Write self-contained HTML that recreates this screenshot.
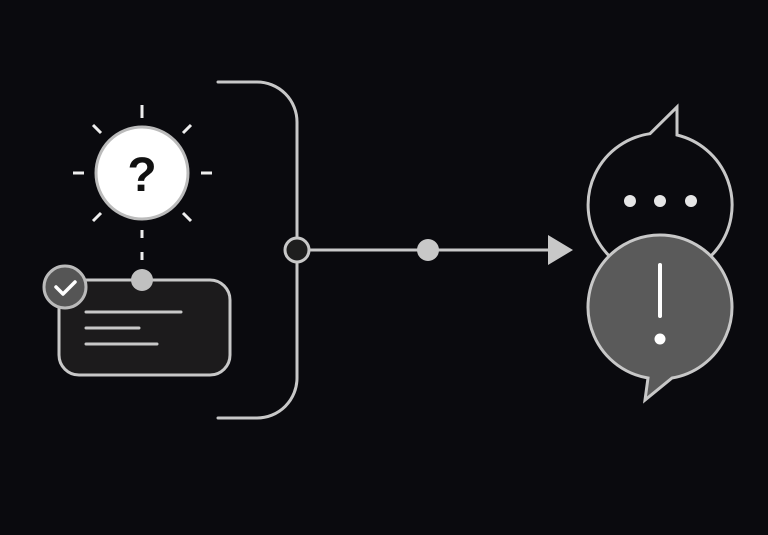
<!DOCTYPE html>
<html><head><style>html,body{margin:0;padding:0;background:#0a0a0e;}svg{display:block}</style></head>
<body>
<svg width="768" height="535" viewBox="0 0 768 535" xmlns="http://www.w3.org/2000/svg">
<rect width="768" height="535" fill="#0a0a0e"/>
<g stroke="#c8c8c8" stroke-width="3" fill="none" stroke-linecap="round">
<path d="M218 82 H257 A40 40 0 0 1 297 122 V378 A40 40 0 0 1 257 418 H218"/>
<line x1="309" y1="250" x2="550" y2="250"/>
</g>
<polygon points="548,235 573,250 548,265" fill="#c8c8c8"/>
<circle cx="297" cy="250" r="12" fill="#1e1e1e" stroke="#c8c8c8" stroke-width="3"/>
<circle cx="428" cy="250" r="11" fill="#c8c8c8"/>
<g stroke="#eee" stroke-width="3" stroke-linecap="butt">
<line x1="142" y1="105" x2="142" y2="118"/>
<line x1="73" y1="173" x2="84" y2="173"/>
<line x1="201" y1="173" x2="212" y2="173"/>
<line x1="93" y1="125" x2="101" y2="133"/>
<line x1="191" y1="125" x2="183" y2="133"/>
<line x1="93" y1="221" x2="101" y2="213"/>
<line x1="191" y1="221" x2="183" y2="213"/>
<line x1="142" y1="230" x2="142" y2="238"/>
<line x1="142" y1="252" x2="142" y2="260"/>
</g>
<circle cx="142" cy="173" r="46" fill="#fff" stroke="#bbb" stroke-width="3"/>
<text x="142" y="191" text-anchor="middle" font-family="Liberation Sans, sans-serif" font-weight="bold" font-size="48" fill="#111">?</text>
<rect x="59" y="280" width="171" height="95" rx="20" fill="#1c1b1c" stroke="#c8c8c8" stroke-width="3"/>
<g stroke="#c8c8c8" stroke-width="3" stroke-linecap="round">
<line x1="86" y1="312" x2="181" y2="312"/>
<line x1="86" y1="328" x2="139" y2="328"/>
<line x1="86" y1="344" x2="157" y2="344"/>
</g>
<circle cx="142" cy="280" r="11" fill="#c0c0c0"/>
<circle cx="65" cy="287" r="21" fill="#555" stroke="#bbb" stroke-width="3"/>
<path d="M56 287 L63 294 L75 282" stroke="#fff" stroke-width="3.5" fill="none" stroke-linecap="round" stroke-linejoin="round"/>
<path d="M650 133.7 L677 107 L677 135 A72 72 0 1 1 650 133.7 Z" fill="#0a0a0e" stroke="#c8c8c8" stroke-width="3"/>
<circle cx="630" cy="201" r="6" fill="#e6e6e6"/>
<circle cx="660" cy="201" r="6" fill="#e6e6e6"/>
<circle cx="691" cy="201" r="6" fill="#e6e6e6"/>
<path d="M672 378 L645 400 L648 378 A72 72 0 1 1 672 378 Z" fill="#5a5a5a" stroke="#c8c8c8" stroke-width="3"/>
<line x1="660" y1="265" x2="660" y2="316" stroke="#fff" stroke-width="4" stroke-linecap="round"/>
<circle cx="660" cy="339" r="5.5" fill="#fff"/>
</svg>
</body></html>
